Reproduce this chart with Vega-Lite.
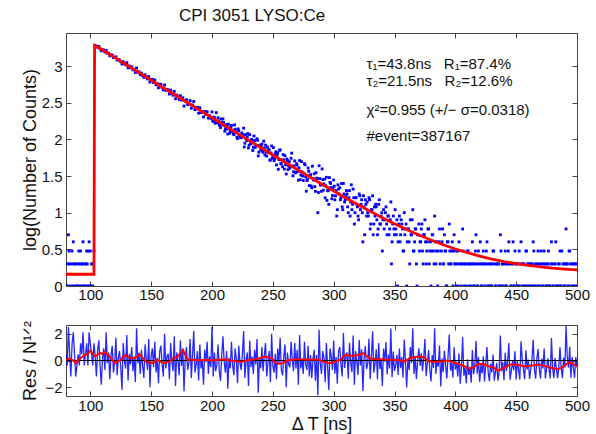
{
"$schema": "https://vega.github.io/schema/vega-lite/v6.json",
"background": "white",
"padding": {"left": 20, "top": 6, "right": 0, "bottom": 0},
"config": {
 "font": "Liberation Sans",
 "view": {"stroke": "#444", "strokeWidth": 1},
 "axis": {"domain": false, "grid": false, "ticks": true, "tickSize": -5, "tickColor": "#444", "labelFontSize": 15, "labelColor": "#111", "titleFontSize": 18, "titleFontWeight": "normal", "titleColor": "#111", "labelFont": "Liberation Sans", "titleFont": "Liberation Sans", "labelFlush": false}
},
"spacing": 17,
"datasets": {
"m": [
{"t":80,"v":0.301,"r":0.46},{"t":81,"v":0,"r":-0.37},{"t":82,"v":0.699,"r":2.5},{"t":83,"v":0.301,"r":0.46},{"t":84,"v":null,"r":-1.2},{"t":85,"v":0.477,"r":1.29},{"t":86,"v":0.602,"r":2.1},{"t":87,"v":0.301,"r":0.46},{"t":88,"v":null,"r":-1.2},{"t":89,"v":0,"r":-0.37},
{"t":90,"v":0.301,"r":0.46},{"t":91,"v":0,"r":-0.37},{"t":92,"v":0.477,"r":1.29},{"t":93,"v":0.301,"r":0.46},{"t":94,"v":0.602,"r":2.1},{"t":95,"v":0,"r":-0.37},{"t":96,"v":0.301,"r":0.46},{"t":97,"v":0.477,"r":1.29},{"t":98,"v":0,"r":-0.37},{"t":99,"v":0.602,"r":2.1},
{"t":100,"v":0.477,"r":1.29},{"t":101,"v":0.301,"r":0.46},{"t":102,"v":0,"r":-0.37},{"t":103,"v":0.477,"r":1.29},
{"t":104,"v":3.28,"r":0.3},{"t":105,"v":3.256,"r":-1.2},{"t":106,"v":3.269,"r":0.8},{"t":107,"v":3.267,"r":1.5},{"t":108,"v":3.234,"r":-0.4},{"t":109,"v":3.207,"r":-1.8},
{"t":110,"v":3.219,"r":0.1},{"t":111,"v":3.219,"r":0.9},{"t":112,"v":3.19,"r":-0.7},{"t":113,"v":3.212,"r":2.1},{"t":114,"v":3.175,"r":-0.2},{"t":115,"v":3.174,"r":0.6},{"t":116,"v":3.139,"r":-1.4},{"t":117,"v":3.151,"r":0.4},{"t":118,"v":3.149,"r":1.1},{"t":119,"v":3.115,"r":-0.9},
{"t":120,"v":3.114,"r":-0.1},{"t":121,"v":3.125,"r":1.7},{"t":122,"v":3.082,"r":-1.1},{"t":123,"v":3.086,"r":0.2},{"t":124,"v":3.082,"r":0.7},{"t":125,"v":3.058,"r":-0.5},{"t":126,"v":3.027,"r":-2.2},{"t":127,"v":3.059,"r":1.3},{"t":128,"v":3.033,"r":0},{"t":129,"v":3.016,"r":-0.6},
{"t":130,"v":3.046,"r":1.9},{"t":131,"v":2.975,"r":-1.5},{"t":132,"v":3.001,"r":0.5},{"t":133,"v":2.976,"r":-0.3},{"t":134,"v":2.989,"r":1.0},{"t":135,"v":2.947,"r":-0.8},{"t":136,"v":2.955,"r":0.3},{"t":137,"v":2.911,"r":-1.6},{"t":138,"v":2.973,"r":2.4},{"t":139,"v":2.916,"r":-0.2},
{"t":140,"v":2.92,"r":0.6},{"t":141,"v":2.881,"r":-1.0},{"t":142,"v":2.903,"r":0.8},{"t":143,"v":2.871,"r":-0.4},{"t":144,"v":2.845,"r":-1.3},{"t":145,"v":2.88,"r":1.2},{"t":146,"v":2.849,"r":0.1},{"t":147,"v":2.824,"r":-0.7},{"t":148,"v":2.856,"r":1.6},{"t":149,"v":2.781,"r":-2.0},
{"t":150,"v":2.816,"r":0.4},{"t":151,"v":2.818,"r":0.9},{"t":152,"v":2.774,"r":-0.5},{"t":153,"v":2.809,"r":1.4},{"t":154,"v":2.743,"r":-0.9},{"t":155,"v":2.76,"r":0.2},{"t":156,"v":2.703,"r":-1.7},{"t":157,"v":2.751,"r":0.7},{"t":158,"v":2.75,"r":1.1},{"t":159,"v":2.707,"r":-0.3},
{"t":160,"v":2.674,"r":-1.2},{"t":161,"v":2.741,"r":2.0},{"t":162,"v":2.669,"r":-0.6},{"t":163,"v":2.679,"r":0.3},{"t":164,"v":2.674,"r":0.5},{"t":165,"v":2.618,"r":-1.4},{"t":166,"v":2.672,"r":1.3},{"t":167,"v":2.629,"r":-0.1},{"t":168,"v":2.602,"r":-0.8},{"t":169,"v":2.654,"r":1.8},
{"t":170,"v":2.554,"r":-1.9},{"t":171,"v":2.604,"r":0.6},{"t":172,"v":2.58,"r":0},{"t":173,"v":2.543,"r":-1.1},{"t":174,"v":2.595,"r":1.5},{"t":175,"v":2.536,"r":-0.4},{"t":176,"v":2.567,"r":0.9},{"t":177,"v":2.454,"r":-2.3},{"t":178,"v":2.524,"r":0.2},{"t":179,"v":2.54,"r":1.0},
{"t":180,"v":2.475,"r":-0.7},{"t":181,"v":2.481,"r":-0.2},{"t":182,"v":2.528,"r":1.6},{"t":183,"v":2.424,"r":-1.3},{"t":184,"v":2.469,"r":0.4},{"t":185,"v":2.516,"r":2.2},{"t":186,"v":2.406,"r":-0.9},{"t":187,"v":2.415,"r":-0.3},{"t":188,"v":2.437,"r":0.7},{"t":189,"v":2.357,"r":-1.5},
{"t":190,"v":2.432,"r":1.2},{"t":191,"v":2.365,"r":-0.6},{"t":192,"v":2.377,"r":0.1},{"t":193,"v":2.305,"r":-1.8},{"t":194,"v":2.379,"r":0.8},{"t":195,"v":2.34,"r":-0.1},{"t":196,"v":2.377,"r":1.4},{"t":197,"v":2.29,"r":-1.0},{"t":198,"v":2.322,"r":0.3},{"t":199,"v":2.286,"r":-0.5},
{"t":200,"v":2.374,"r":2.5},{"t":201,"v":2.246,"r":-1.2},{"t":202,"v":2.293,"r":0.6},{"t":203,"v":2.238,"r":-0.8},{"t":204,"v":2.24,"r":-0.3},{"t":205,"v":2.293,"r":1.2},{"t":206,"v":2.199,"r":-0.8},{"t":207,"v":2.16,"r":-1.5},{"t":208,"v":2.229,"r":0.4},{"t":209,"v":2.278,"r":1.8},
{"t":210,"v":2.188,"r":-0.1},{"t":211,"v":2.144,"r":-0.9},{"t":212,"v":2.201,"r":0.7},{"t":213,"v":2.073,"r":-2.1},{"t":214,"v":2.159,"r":0.2},{"t":215,"v":2.116,"r":-0.6},{"t":216,"v":2.19,"r":1.4},{"t":217,"v":2.104,"r":-0.4},{"t":218,"v":2.064,"r":-1.1},{"t":219,"v":2.138,"r":0.9},
{"t":220,"v":2.094,"r":0.1},{"t":221,"v":2.009,"r":-1.7},{"t":222,"v":2.116,"r":1.1},{"t":223,"v":2.052,"r":-0.2},{"t":224,"v":2.021,"r":-0.7},{"t":225,"v":2.068,"r":0.5},{"t":226,"v":2.152,"r":2.2},{"t":227,"v":1.946,"r":-1.3},{"t":228,"v":2.009,"r":0},{"t":229,"v":2.033,"r":0.6},
{"t":230,"v":1.883,"r":-1.9},{"t":231,"v":2.063,"r":1.5},{"t":232,"v":1.941,"r":-0.5},{"t":233,"v":1.976,"r":0.3},{"t":234,"v":1.893,"r":-1.0},{"t":235,"v":1.984,"r":0.8},{"t":236,"v":1.911,"r":-0.3},{"t":237,"v":2.008,"r":1.6},{"t":238,"v":1.774,"r":-2.4},{"t":239,"v":1.909,"r":0.2},
{"t":240,"v":1.854,"r":-0.6},{"t":241,"v":1.934,"r":1.0},{"t":242,"v":1.823,"r":-0.8},{"t":243,"v":1.88,"r":0.4},{"t":244,"v":1.921,"r":1.3},{"t":245,"v":1.771,"r":-1.2},{"t":246,"v":1.821,"r":-0.1},{"t":247,"v":1.856,"r":0.7},{"t":248,"v":1.717,"r":-1.6},{"t":249,"v":1.909,"r":2.0},
{"t":250,"v":1.757,"r":-0.4},{"t":251,"v":1.709,"r":-0.9},{"t":252,"v":1.805,"r":0.5},{"t":253,"v":1.652,"r":-1.4},{"t":254,"v":1.815,"r":0.9},{"t":255,"v":1.722,"r":-0.2},{"t":256,"v":1.855,"r":1.7},{"t":257,"v":1.664,"r":-0.7},{"t":258,"v":1.624,"r":-1.1},{"t":259,"v":1.72,"r":0.3},
{"t":260,"v":1.777,"r":1.2},{"t":261,"v":1.527,"r":-2.0},{"t":262,"v":1.712,"r":0.6},{"t":263,"v":1.634,"r":-0.3},{"t":264,"v":1.609,"r":-0.5},{"t":265,"v":1.742,"r":1.4},{"t":266,"v":1.636,"r":0.1},{"t":267,"v":1.558,"r":-0.8},{"t":268,"v":1.706,"r":1.3},{"t":269,"v":1.553,"r":-0.6},
{"t":270,"v":1.648,"r":0.8},{"t":271,"v":1.443,"r":-1.8},{"t":272,"v":1.711,"r":1.9},{"t":273,"v":1.513,"r":-0.6},{"t":274,"v":1.556,"r":0.1},{"t":275,"v":1.438,"r":-1.0},{"t":276,"v":1.668,"r":1.4},{"t":277,"v":1.488,"r":-0.3},{"t":278,"v":1.438,"r":-0.7},{"t":279,"v":1.609,"r":1.1},
{"t":280,"v":1.369,"r":-1.2},{"t":281,"v":1.519,"r":0.4},{"t":282,"v":1.339,"r":-1.3},{"t":283,"v":1.469,"r":0.1},{"t":284,"v":1.53,"r":0.8},{"t":285,"v":1.29,"r":-1.5},{"t":286,"v":1.47,"r":0.4},{"t":287,"v":1.0,"r":-2.6},{"t":288,"v":1.64,"r":2.3},{"t":289,"v":1.381,"r":-0.2},
{"t":290,"v":1.291,"r":-1.0},{"t":291,"v":1.451,"r":0.7},{"t":292,"v":1.392,"r":0.2},{"t":293,"v":1.202,"r":-1.6},{"t":294,"v":1.482,"r":1.3},{"t":295,"v":1.303,"r":-0.4},{"t":296,"v":1.113,"r":-2.2},{"t":297,"v":1.414,"r":0.9},{"t":298,"v":1.344,"r":0.3},{"t":299,"v":1.234,"r":-0.7},
{"t":300,"v":1.445,"r":1.5},{"t":301,"v":1.176,"r":-0.98},{"t":302,"v":1.301,"r":0.25},{"t":303,"v":1.041,"r":-1.74},{"t":304,"v":1.322,"r":0.68},{"t":305,"v":1.342,"r":1.02},{"t":306,"v":1.204,"r":-0.31},{"t":307,"v":1.079,"r":-1.19},{"t":308,"v":1.398,"r":2.06},{"t":309,"v":1.146,"r":-0.55},
{"t":310,"v":1.23,"r":0.28},{"t":311,"v":1.255,"r":0.61},{"t":312,"v":1.0,"r":-1.36},{"t":313,"v":1.301,"r":1.32},{"t":314,"v":1.146,"r":-0.16},{"t":315,"v":1.041,"r":-0.87},{"t":316,"v":1.322,"r":1.87},{"t":317,"v":0.845,"r":-1.81},{"t":318,"v":1.204,"r":0.71},{"t":319,"v":1.114,"r":-0.03},
{"t":320,"v":0.954,"r":-1.08},{"t":321,"v":1.255,"r":1.52},{"t":322,"v":1.041,"r":-0.38},{"t":323,"v":1.176,"r":0.83},{"t":324,"v":0.602,"r":-2.28},{"t":325,"v":1.079,"r":0.12},{"t":326,"v":1.176,"r":1.07},{"t":327,"v":0.954,"r":-0.64},{"t":328,"v":1.0,"r":-0.27},{"t":329,"v":1.204,"r":1.62},
{"t":330,"v":0.778,"r":-1.38},{"t":331,"v":1.041,"r":0.23},{"t":332,"v":1.23,"r":2.19},{"t":333,"v":0.845,"r":-0.91},{"t":334,"v":0.954,"r":-0.21},{"t":335,"v":1.079,"r":0.83},{"t":336,"v":0.699,"r":-1.4},{"t":337,"v":1.114,"r":1.3},{"t":338,"v":0.845,"r":-0.64},{"t":339,"v":0.954,"r":0.09},
{"t":340,"v":0.477,"r":-1.9},{"t":341,"v":1.041,"r":0.9},{"t":342,"v":0.903,"r":-0.08},{"t":343,"v":1.079,"r":1.38},{"t":344,"v":0.699,"r":-1.04},{"t":345,"v":0.954,"r":0.44},{"t":346,"v":0.778,"r":-0.59},{"t":347,"v":1.146,"r":2.38},{"t":348,"v":0.602,"r":-1.24},{"t":349,"v":0.954,"r":0.67},
{"t":350,"v":0.699,"r":-0.78},{"t":351,"v":0.778,"r":-0.38},{"t":352,"v":0.903,"r":0.42},{"t":353,"v":0.602,"r":-1.08},{"t":354,"v":0.954,"r":0.89},{"t":355,"v":0.699,"r":-0.57},{"t":356,"v":0.845,"r":0.26},{"t":357,"v":0.477,"r":-1.29},{"t":358,"v":1.0,"r":1.57},{"t":359,"v":0.778,"r":0.0},
{"t":360,"v":0,"r":-2.02},{"t":361,"v":0.778,"r":0.08},{"t":362,"v":0.602,"r":-0.71},{"t":363,"v":0.903,"r":1.01},{"t":364,"v":0.699,"r":-0.21},{"t":365,"v":1.041,"r":2.4},{"t":366,"v":0.477,"r":-1.0},{"t":367,"v":0.778,"r":0.34},{"t":368,"v":0.301,"r":-1.38},{"t":369,"v":0.699,"r":-0.02},
{"t":370,"v":0.845,"r":0.91},{"t":371,"v":0.602,"r":-0.41},{"t":372,"v":0.778,"r":0.54},{"t":373,"v":0.477,"r":-0.8},{"t":374,"v":0.699,"r":0.16},{"t":375,"v":0.903,"r":1.6},{"t":376,"v":0.301,"r":-1.18},{"t":377,"v":0.602,"r":-0.21},{"t":378,"v":0.778,"r":0.78},{"t":379,"v":0.477,"r":-0.63},
{"t":380,"v":0,"r":-1.57},{"t":381,"v":0.699,"r":0.4},{"t":382,"v":0.477,"r":-0.55},{"t":383,"v":0.954,"r":2.41},{"t":384,"v":0.301,"r":-1.0},{"t":385,"v":0.602,"r":0.04},{"t":386,"v":0.477,"r":-0.45},{"t":387,"v":0.778,"r":1.12},{"t":388,"v":null,"r":-1.94},{"t":389,"v":0.602,"r":0.15},
{"t":390,"v":0.301,"r":-0.87},{"t":391,"v":0.699,"r":0.73},{"t":392,"v":0.477,"r":-0.3},{"t":393,"v":0,"r":-1.34},{"t":394,"v":0.602,"r":0.28},{"t":395,"v":0.845,"r":1.94},{"t":396,"v":0.301,"r":-0.75},{"t":397,"v":0.477,"r":-0.18},{"t":398,"v":0,"r":-1.27},{"t":399,"v":0.699,"r":0.98},
{"t":400,"v":0.301,"r":-0.67},{"t":401,"v":0.477,"r":-0.09},{"t":402,"v":0,"r":-1.2},{"t":403,"v":0.602,"r":0.53},{"t":404,"v":null,"r":-1.74},{"t":405,"v":0.301,"r":-0.58},{"t":406,"v":0.778,"r":1.75},{"t":407,"v":0,"r":-1.13},{"t":408,"v":0.301,"r":-0.53},{"t":409,"v":null,"r":-1.7},
{"t":410,"v":0.477,"r":0.09},{"t":411,"v":0,"r":-1.08},{"t":412,"v":0.301,"r":-0.47},{"t":413,"v":null,"r":-1.66},{"t":414,"v":0.602,"r":0.78},{"t":415,"v":0,"r":-1.03},{"t":416,"v":0.301,"r":-0.4},{"t":417,"v":0.699,"r":1.46},{"t":418,"v":0,"r":-0.99},{"t":419,"v":0.477,"r":0.26},
{"t":420,"v":null,"r":-1.6},{"t":421,"v":0.301,"r":-0.34},{"t":422,"v":0,"r":-0.96},{"t":423,"v":0.477,"r":0.32},{"t":424,"v":null,"r":-1.57},{"t":425,"v":0.301,"r":-0.28},{"t":426,"v":0.602,"r":1.01},{"t":427,"v":0,"r":-0.9},{"t":428,"v":null,"r":-1.54},{"t":429,"v":0.301,"r":-0.23},
{"t":430,"v":0,"r":-0.88},{"t":431,"v":0.477,"r":0.45},{"t":432,"v":null,"r":-1.51},{"t":433,"v":0,"r":-0.85},{"t":434,"v":0.301,"r":-0.17},{"t":435,"v":null,"r":-1.5},{"t":436,"v":0,"r":-0.83},{"t":437,"v":0.699,"r":1.87},{"t":438,"v":0,"r":-0.8},{"t":439,"v":0.301,"r":-0.12},
{"t":440,"v":null,"r":-1.47},{"t":441,"v":0.477,"r":0.58},{"t":442,"v":0,"r":-0.77},{"t":443,"v":0.301,"r":-0.08},{"t":444,"v":0.602,"r":1.31},{"t":445,"v":null,"r":-1.44},{"t":446,"v":0,"r":-0.75},{"t":447,"v":0.301,"r":-0.04},{"t":448,"v":0,"r":-0.73},{"t":449,"v":0.477,"r":0.68},
{"t":450,"v":null,"r":-1.42},{"t":451,"v":0.301,"r":0.0},{"t":452,"v":0,"r":-0.71},{"t":453,"v":null,"r":-1.41},{"t":454,"v":0.602,"r":1.43},{"t":455,"v":0.301,"r":0.02},{"t":456,"v":0,"r":-0.69},{"t":457,"v":null,"r":-1.39},{"t":458,"v":0.477,"r":0.76},{"t":459,"v":0,"r":-0.66},
{"t":460,"v":0.301,"r":0.07},{"t":461,"v":null,"r":-1.38},{"t":462,"v":0,"r":-0.65},{"t":463,"v":0.301,"r":0.09},{"t":464,"v":0.602,"r":1.55},{"t":465,"v":0,"r":-0.63},{"t":466,"v":null,"r":-1.36},{"t":467,"v":0.301,"r":0.12},{"t":468,"v":0.477,"r":0.85},{"t":469,"v":0,"r":-0.61},
{"t":470,"v":null,"r":-1.35},{"t":471,"v":0.301,"r":0.14},{"t":472,"v":0,"r":-0.6},{"t":473,"v":0.477,"r":0.9},{"t":474,"v":null,"r":-1.34},{"t":475,"v":0,"r":-0.59},{"t":476,"v":0.301,"r":0.17},{"t":477,"v":0,"r":-0.59},{"t":478,"v":null,"r":-1.33},{"t":479,"v":0.602,"r":1.68},
{"t":480,"v":0,"r":-0.57},{"t":481,"v":null,"r":-1.32},{"t":482,"v":0.301,"r":0.19},{"t":483,"v":0,"r":-0.56},{"t":484,"v":null,"r":-1.32},{"t":485,"v":0,"r":-0.55},{"t":486,"v":0.477,"r":0.98},{"t":487,"v":0,"r":-0.55},{"t":488,"v":null,"r":-1.31},{"t":489,"v":0.301,"r":0.22},
{"t":490,"v":0,"r":-0.54},{"t":491,"v":0.778,"r":2.6},{"t":492,"v":0.301,"r":0.24},{"t":493,"v":0,"r":-0.53},{"t":494,"v":0.477,"r":1.02},{"t":495,"v":null,"r":-1.29},{"t":496,"v":0.301,"r":0.26},{"t":497,"v":0,"r":-0.52},{"t":498,"v":null,"r":-1.29},{"t":499,"v":0.301,"r":0.26},
{"t":500,"v":0,"r":-0.51}
],
"ex": [
{"t":80.5,"v":0},{"t":81.5,"v":0.301},{"t":82.5,"v":0.477},{"t":83.5,"v":0},{"t":84.5,"v":0.301},{"t":85.5,"v":0},{"t":86.5,"v":0.301},{"t":87.5,"v":0},{"t":88.5,"v":0.301},{"t":89.5,"v":0},{"t":90.5,"v":0.477},{"t":91.5,"v":0.301},{"t":92.5,"v":0},{"t":93.5,"v":0.301},{"t":94.5,"v":0},{"t":95.5,"v":0.301},{"t":96.5,"v":0},{"t":97.5,"v":0.301},{"t":98.5,"v":0.477},{"t":99.5,"v":0},{"t":100.5,"v":0},{"t":101.5,"v":0.301},{"t":102.5,"v":0.301},
{"t":200.5,"v":2.255},{"t":201.5,"v":2.304},{"t":202.5,"v":2.219},{"t":203.5,"v":2.364},{"t":204.5,"v":2.227},{"t":205.5,"v":2.251},{"t":206.5,"v":2.186},{"t":207.5,"v":2.277},{"t":208.5,"v":2.203},{"t":209.5,"v":2.231},
{"t":210.5,"v":2.111},{"t":211.5,"v":2.181},{"t":212.5,"v":2.142},{"t":213.5,"v":2.206},{"t":214.5,"v":2.083},{"t":215.5,"v":2.165},{"t":216.5,"v":2.113},{"t":217.5,"v":2.078},{"t":218.5,"v":2.197},{"t":219.5,"v":2.112},
{"t":220.5,"v":2.03},{"t":221.5,"v":2.142},{"t":222.5,"v":2.057},{"t":223.5,"v":2.026},{"t":224.5,"v":2.087},{"t":225.5,"v":2.046},{"t":226.5,"v":1.895},{"t":227.5,"v":2.064},{"t":228.5,"v":1.982},{"t":229.5,"v":2.078},
{"t":230.5,"v":1.922},{"t":231.5,"v":1.974},{"t":232.5,"v":1.998},{"t":233.5,"v":1.848},{"t":234.5,"v":2.045},{"t":235.5,"v":1.889},{"t":236.5,"v":1.917},{"t":237.5,"v":1.986},{"t":238.5,"v":1.825},{"t":239.5,"v":1.921},
{"t":240.5,"v":1.9},{"t":241.5,"v":1.839},{"t":242.5,"v":1.975},{"t":243.5,"v":1.786},{"t":244.5,"v":1.826},{"t":245.5,"v":1.895},{"t":246.5,"v":1.861},{"t":247.5,"v":1.717},{"t":248.5,"v":1.813},{"t":249.5,"v":1.742},
{"t":250.5,"v":1.887},{"t":251.5,"v":1.734},{"t":252.5,"v":1.83},{"t":253.5,"v":1.782},{"t":254.5,"v":1.592},{"t":255.5,"v":1.852},{"t":256.5,"v":1.669},{"t":257.5,"v":1.72},{"t":258.5,"v":1.792},{"t":259.5,"v":1.594},
{"t":260.5,"v":1.652},{"t":261.5,"v":1.732},{"t":262.5,"v":1.587},{"t":263.5,"v":1.697},{"t":264.5,"v":1.627},{"t":265.5,"v":1.812},{"t":266.5,"v":1.503},{"t":267.5,"v":1.636},{"t":268.5,"v":1.543},{"t":269.5,"v":1.668},
{"t":270.5,"v":1.56},{"t":271.5,"v":1.611},{"t":272.5,"v":1.45},{"t":273.5,"v":1.696},{"t":274.5,"v":1.498},{"t":275.5,"v":1.533},{"t":276.5,"v":1.653},{"t":277.5,"v":1.293},{"t":278.5,"v":1.453},{"t":279.5,"v":1.564},
{"t":280.5,"v":1.504},{"t":281.5,"v":1.364},{"t":282.5,"v":1.634},{"t":283.5,"v":1.444},{"t":284.5,"v":1.355},{"t":285.5,"v":1.545},{"t":286.5,"v":1.465},{"t":287.5,"v":1.275},{"t":288.5,"v":1.465},{"t":289.5,"v":1.376},
{"t":290.5,"v":1.596},{"t":291.5,"v":1.306},{"t":292.5,"v":1.457},{"t":293.5,"v":1.367},{"t":294.5,"v":1.167},{"t":295.5,"v":1.298},{"t":296.5,"v":1.478},{"t":297.5,"v":1.399},{"t":298.5,"v":1.189},{"t":299.5,"v":1.33},
{"t":300.5,"v":1.362},{"t":301.5,"v":1.23},{"t":302.5,"v":0.954},{"t":303.5,"v":1.38},{"t":304.5,"v":1.255},{"t":305.5,"v":1.176},{"t":306.5,"v":1.398},{"t":307.5,"v":1.041},{"t":308.5,"v":1.255},{"t":309.5,"v":1.176},
{"t":310.5,"v":1.301},{"t":311.5,"v":1.079},{"t":312.5,"v":1.204},{"t":313.5,"v":0.954},{"t":314.5,"v":1.38},{"t":315.5,"v":1.114},{"t":316.5,"v":1.204},{"t":317.5,"v":1.0},{"t":318.5,"v":1.204},{"t":319.5,"v":1.079},
{"t":320.5,"v":0.903},{"t":321.5,"v":1.23},{"t":322.5,"v":1.114},{"t":323.5,"v":1.0},{"t":324.5,"v":1.23},{"t":325.5,"v":0.699},{"t":326.5,"v":1.114},{"t":327.5,"v":1.146},{"t":328.5,"v":0.954},{"t":329.5,"v":1.176},
{"t":330.5,"v":0.845},{"t":331.5,"v":1.041},{"t":332.5,"v":0.699},{"t":333.5,"v":1.079},{"t":334.5,"v":1.114},{"t":335.5,"v":0.903},{"t":336.5,"v":0.778},{"t":337.5,"v":1.176},{"t":338.5,"v":0.845},{"t":339.5,"v":1.0},
{"t":340.5,"v":0.903},{"t":341.5,"v":0.778},{"t":342.5,"v":1.0},{"t":343.5,"v":0.845},{"t":344.5,"v":0.954},{"t":345.5,"v":0.699},{"t":346.5,"v":0.903},{"t":347.5,"v":0.301},{"t":348.5,"v":0.845},{"t":349.5,"v":0.778},
{"t":350.5,"v":1.041},{"t":351.5,"v":0.699},{"t":352.5,"v":0},{"t":353.5,"v":0.845},{"t":354.5,"v":0.602},{"t":355.5,"v":0.903},{"t":356.5,"v":0.778},{"t":357.5,"v":0.477},{"t":358.5,"v":0.699},{"t":359.5,"v":0.845},
{"t":360.5,"v":0.602},{"t":361.5,"v":0.778},{"t":362.5,"v":0.301},{"t":363.5,"v":0.699},{"t":364.5,"v":0.903},{"t":365.5,"v":0.477},{"t":366.5,"v":0.602},{"t":367.5,"v":0.778},{"t":368.5,"v":0},{"t":369.5,"v":0.699},
{"t":370.5,"v":0.477},{"t":371.5,"v":0.602},{"t":372.5,"v":0.845},{"t":373.5,"v":0.301},{"t":374.5,"v":0.699},{"t":375.5,"v":0.602},{"t":376.5,"v":0.477},{"t":377.5,"v":0.778},{"t":378.5,"v":0.301},{"t":379.5,"v":0.602},
{"t":380.5,"v":0.477},{"t":381.5,"v":0.699},{"t":382.5,"v":0.301},{"t":383.5,"v":0.602},{"t":384.5,"v":0.477},{"t":385.5,"v":0},{"t":386.5,"v":0.602},{"t":387.5,"v":0.301},{"t":388.5,"v":0.477},{"t":389.5,"v":0.778},
{"t":390.5,"v":0.301},{"t":391.5,"v":0.477},{"t":392.5,"v":0},{"t":393.5,"v":0.602},{"t":394.5,"v":0.301},{"t":395.5,"v":0.477},{"t":396.5,"v":0.301},{"t":397.5,"v":0.602},{"t":398.5,"v":0.477},{"t":399.5,"v":0.301},
{"t":400.5,"v":0},{"t":401.5,"v":0.301},{"t":402.5,"v":0.477},{"t":403.5,"v":0.301},{"t":404.5,"v":0},{"t":405.5,"v":0.301},{"t":406.5,"v":0.477},{"t":407.5,"v":0.301},{"t":408.5,"v":0},{"t":409.5,"v":0.301},
{"t":410.5,"v":0.477},{"t":411.5,"v":0.301},{"t":412.5,"v":0},{"t":413.5,"v":0.301},{"t":414.5,"v":0.301},{"t":415.5,"v":0},{"t":416.5,"v":0.477},{"t":417.5,"v":0.301},{"t":418.5,"v":0},{"t":419.5,"v":0.301},
{"t":420.5,"v":0.602},{"t":421.5,"v":0},{"t":422.5,"v":0.301},{"t":423.5,"v":0.301},{"t":424.5,"v":0},{"t":425.5,"v":0.477},{"t":426.5,"v":0.301},{"t":427.5,"v":0},{"t":428.5,"v":0.301},{"t":429.5,"v":0},
{"t":430.5,"v":0.301},{"t":431.5,"v":0.477},{"t":432.5,"v":0.301},{"t":433.5,"v":0},{"t":434.5,"v":0.301},{"t":435.5,"v":0.301},{"t":436.5,"v":0},{"t":437.5,"v":0.477},{"t":438.5,"v":0.301},{"t":439.5,"v":0},
{"t":440.5,"v":0.301},{"t":441.5,"v":0},{"t":442.5,"v":0.301},{"t":443.5,"v":0.477},{"t":444.5,"v":0.301},{"t":445.5,"v":0},{"t":446.5,"v":0.301},{"t":447.5,"v":0.602},{"t":448.5,"v":0},{"t":449.5,"v":0.301},
{"t":450.5,"v":0.301},{"t":451.5,"v":0},{"t":452.5,"v":0.477},{"t":453.5,"v":0.301},{"t":454.5,"v":0},{"t":455.5,"v":0.301},{"t":456.5,"v":0.301},{"t":457.5,"v":0},{"t":458.5,"v":0.477},{"t":459.5,"v":0.301},
{"t":460.5,"v":0},{"t":461.5,"v":0.301},{"t":462.5,"v":0.301},{"t":463.5,"v":0},{"t":464.5,"v":0.477},{"t":465.5,"v":0.301},{"t":466.5,"v":0},{"t":467.5,"v":0.301},{"t":468.5,"v":0},{"t":469.5,"v":0.301},
{"t":470.5,"v":0.477},{"t":471.5,"v":0},{"t":472.5,"v":0.301},{"t":473.5,"v":0.301},{"t":474.5,"v":0},{"t":475.5,"v":0.301},{"t":476.5,"v":0.477},{"t":477.5,"v":0},{"t":478.5,"v":0.301},{"t":479.5,"v":0.301},
{"t":480.5,"v":0},{"t":481.5,"v":0.301},{"t":482.5,"v":0.602},{"t":483.5,"v":0},{"t":484.5,"v":0.301},{"t":485.5,"v":0.301},{"t":486.5,"v":0},{"t":487.5,"v":0.477},{"t":488.5,"v":0.301},{"t":489.5,"v":0},
{"t":490.5,"v":0.301},{"t":491.5,"v":0.301},{"t":492.5,"v":0},{"t":493.5,"v":0.477},{"t":494.5,"v":0.301},{"t":495.5,"v":0},{"t":496.5,"v":0.301},{"t":497.5,"v":0.301},{"t":498.5,"v":0},{"t":499.5,"v":0.301}
],
"fit": [
{"t":80,"v":0.16},{"t":103,"v":0.16},{"t":103.5,"v":3.28},{"t":104,"v":3.275},{"t":110,"v":3.219},{"t":120,"v":3.116},{"t":130,"v":3.013},{"t":140,"v":2.91},{"t":150,"v":2.807},{"t":160,"v":2.704},{"t":170,"v":2.602},{"t":180,"v":2.499},{"t":190,"v":2.397},{"t":200,"v":2.294},{"t":210,"v":2.192},{"t":220,"v":2.09},{"t":230,"v":1.989},{"t":240,"v":1.888},{"t":250,"v":1.787},{"t":260,"v":1.687},{"t":270,"v":1.588},{"t":280,"v":1.489},{"t":290,"v":1.391},{"t":300,"v":1.295},{"t":310,"v":1.201},{"t":320,"v":1.109},{"t":330,"v":1.019},{"t":340,"v":0.932},{"t":350,"v":0.849},{"t":360,"v":0.771},{"t":370,"v":0.696},{"t":380,"v":0.627},{"t":390,"v":0.563},{"t":400,"v":0.505},{"t":410,"v":0.454},{"t":420,"v":0.408},{"t":430,"v":0.368},{"t":440,"v":0.334},{"t":450,"v":0.305},{"t":460,"v":0.281},{"t":470,"v":0.261},{"t":480,"v":0.244},{"t":490,"v":0.231},{"t":500,"v":0.22}
],
"sm": [
{"t":80,"r":0.05},{"t":83,"r":0.15},{"t":86,"r":0.0},{"t":88,"r":-0.2},{"t":91,"r":0.1},{"t":95,"r":0.4},{"t":98,"r":0.5},{"t":100,"r":0.75},{"t":102,"r":0.5},{"t":104,"r":0.3},{"t":106,"r":0.45},{"t":108,"r":0.55},{"t":110,"r":0.5},{"t":112,"r":0.65},{"t":114,"r":0.45},{"t":116,"r":0.3},{"t":118,"r":0.05},{"t":120,"r":-0.2},{"t":122,"r":-0.1},{"t":125,"r":0.05},{"t":127,"r":0.3},{"t":129,"r":0.4},{"t":131,"r":0.25},{"t":133,"r":0.2},{"t":136,"r":0.15},{"t":139,"r":0.35},{"t":141,"r":0.45},{"t":143,"r":0.2},{"t":146,"r":-0.1},{"t":148,"r":-0.15},{"t":151,"r":-0.2},{"t":153,"r":-0.05},{"t":155,"r":0.05},{"t":158,"r":-0.1},{"t":160,"r":-0.2},{"t":162,"r":-0.15},{"t":165,"r":-0.1},{"t":167,"r":0.1},{"t":169,"r":0.2},{"t":172,"r":0.3},{"t":174,"r":0.55},{"t":176,"r":0.8},{"t":178,"r":0.4},{"t":180,"r":0.05},{"t":185,"r":0.05},{"t":190,"r":0.0},{"t":195,"r":0.05},{"t":200,"r":0.0},{"t":205,"r":0.05},{"t":210,"r":0.1},{"t":215,"r":0.0},{"t":220,"r":-0.05},{"t":224,"r":-0.1},{"t":228,"r":0.0},{"t":232,"r":0.05},{"t":236,"r":0.1},{"t":240,"r":0.2},{"t":243,"r":0.3},{"t":246,"r":0.25},{"t":249,"r":0.2},{"t":252,"r":-0.2},{"t":255,"r":-0.25},{"t":258,"r":-0.2},{"t":262,"r":0.0},{"t":265,"r":0.05},{"t":270,"r":0.1},{"t":275,"r":0.1},{"t":280,"r":0.05},{"t":284,"r":0.1},{"t":288,"r":0.05},{"t":292,"r":-0.1},{"t":296,"r":-0.2},{"t":300,"r":-0.15},{"t":303,"r":0.0},{"t":306,"r":0.05},{"t":308,"r":0.3},{"t":310,"r":0.45},{"t":313,"r":0.35},{"t":316,"r":0.35},{"t":319,"r":0.4},{"t":322,"r":0.45},{"t":324,"r":0.55},{"t":327,"r":0.35},{"t":330,"r":0.15},{"t":335,"r":0.1},{"t":340,"r":0.1},{"t":345,"r":0.05},{"t":350,"r":0.05},{"t":355,"r":0.0},{"t":358,"r":-0.1},{"t":362,"r":0.15},{"t":366,"r":0.25},{"t":370,"r":0.3},{"t":374,"r":0.25},{"t":377,"r":0.0},{"t":380,"r":-0.1},{"t":385,"r":-0.1},{"t":390,"r":-0.05},{"t":394,"r":0.0},{"t":397,"r":-0.1},{"t":401,"r":-0.2},{"t":404,"r":-0.3},{"t":408,"r":-0.45},{"t":411,"r":-0.6},{"t":414,"r":-0.55},{"t":417,"r":-0.35},{"t":420,"r":-0.25},{"t":424,"r":-0.3},{"t":428,"r":-0.45},{"t":432,"r":-0.55},{"t":435,"r":-0.75},{"t":438,"r":-0.65},{"t":441,"r":-0.5},{"t":445,"r":-0.3},{"t":449,"r":-0.3},{"t":453,"r":-0.35},{"t":457,"r":-0.45},{"t":461,"r":-0.4},{"t":465,"r":-0.35},{"t":469,"r":-0.3},{"t":473,"r":-0.4},{"t":477,"r":-0.5},{"t":481,"r":-0.6},{"t":484,"r":-0.65},{"t":487,"r":-0.55},{"t":490,"r":-0.35},{"t":493,"r":-0.15},{"t":496,"r":-0.2},{"t":500,"r":-0.45}
]
},
"vconcat": [
{
 "width": 511, "height": 253,
 "title": {"text": "CPI 3051 LYSO:Ce", "anchor": "start", "frame": "group", "dx": 113, "fontSize": 17, "fontWeight": "normal", "offset": 8, "color": "#111", "font": "Liberation Sans"},
 "layer": [
  {"data": {"name": "m"},
   "mark": {"type": "point", "shape": "square", "filled": true, "size": 8, "color": "#0000ff", "opacity": 1, "clip": true},
   "encoding": {
    "x": {"field": "t", "type": "quantitative", "scale": {"domain": [80, 500], "nice": false, "zero": false}, "axis": {"values": [100,150,200,250,300,350,400,450,500], "title": null, "labelPadding": 6}},
    "y": {"field": "v", "type": "quantitative", "scale": {"domain": [0, 3.45], "nice": false, "zero": false}, "axis": {"values": [0,0.5,1,1.5,2,2.5,3], "format": "~g", "title": "log(Number of Counts)", "labelPadding": 9, "titlePadding": 0, "minExtent": 27, "maxExtent": 27}}
   }},
  {"data": {"name": "ex"},
   "mark": {"type": "point", "shape": "square", "filled": true, "size": 8, "color": "#0000ff", "opacity": 1, "clip": true},
   "encoding": {
    "x": {"field": "t", "type": "quantitative", "axis": null},
    "y": {"field": "v", "type": "quantitative", "axis": null}
   }},
  {"data": {"name": "fit"},
   "mark": {"type": "line", "color": "#ff0000", "strokeWidth": 2.8, "clip": true},
   "encoding": {
    "x": {"field": "t", "type": "quantitative", "axis": {"orient": "top", "labels": false, "title": null, "values": [100,150,200,250,300,350,400,450,500]}},
    "y": {"field": "v", "type": "quantitative", "axis": {"orient": "right", "labels": false, "title": null, "values": [0,0.5,1,1.5,2,2.5,3]}}
   }},
  {"data": {"values": [{}]}, "mark": {"type": "text", "align": "left", "baseline": "middle", "fontSize": 15, "color": "#111", "font": "Liberation Sans"},
   "encoding": {"x": {"datum": 327, "axis": null}, "y": {"datum": 3.03, "axis": null}, "text": {"value": "τ₁=43.8ns\u00a0\u00a0\u00a0R₁=87.4%"}}},
  {"data": {"values": [{}]}, "mark": {"type": "text", "align": "left", "baseline": "middle", "fontSize": 15, "color": "#111", "font": "Liberation Sans"},
   "encoding": {"x": {"datum": 327, "axis": null}, "y": {"datum": 2.79, "axis": null}, "text": {"value": "τ₂=21.5ns\u00a0\u00a0\u00a0R₂=12.6%"}}},
  {"data": {"values": [{}]}, "mark": {"type": "text", "align": "left", "baseline": "middle", "fontSize": 15, "color": "#111", "font": "Liberation Sans"},
   "encoding": {"x": {"datum": 327, "axis": null}, "y": {"datum": 2.4, "axis": null}, "text": {"value": "χ²=0.955 (+/− σ=0.0318)"}}},
  {"data": {"values": [{}]}, "mark": {"type": "text", "align": "left", "baseline": "middle", "fontSize": 15, "color": "#111", "font": "Liberation Sans"},
   "encoding": {"x": {"datum": 327, "axis": null}, "y": {"datum": 2.04, "axis": null}, "text": {"value": "#event=387167"}}}
 ],
 "resolve": {"axis": {"x": "independent", "y": "independent"}}
},
{
 "width": 511, "height": 71,
 "layer": [
  {"data": {"name": "m"},
   "mark": {"type": "line", "color": "#0000ff", "strokeWidth": 1.3, "opacity": 0.85, "clip": true},
   "encoding": {
    "x": {"field": "t", "type": "quantitative", "scale": {"domain": [80, 500], "nice": false, "zero": false}, "axis": {"values": [100,150,200,250,300,350,400,450,500], "title": "Δ T [ns]", "labelPadding": 7, "titlePadding": 2}},
    "y": {"field": "r", "type": "quantitative", "scale": {"domain": [-2.65, 2.65], "nice": false, "zero": false}, "axis": {"values": [-2,0,2], "title": "Res / N¹ᐟ²", "labelPadding": 9, "titlePadding": 0, "minExtent": 27, "maxExtent": 27}}
   }},
  {"data": {"values": [{}]}, "mark": {"type": "rule", "color": "#000000", "strokeWidth": 1},
   "encoding": {"y": {"datum": 0, "axis": null}}},
  {"data": {"name": "sm"},
   "mark": {"type": "line", "color": "#ff0000", "strokeWidth": 2, "clip": true},
   "encoding": {
    "x": {"field": "t", "type": "quantitative", "axis": {"orient": "top", "labels": false, "title": null, "values": [100,150,200,250,300,350,400,450,500]}},
    "y": {"field": "r", "type": "quantitative", "axis": {"orient": "right", "labels": false, "title": null, "values": [-2,0,2]}}
   }}
 ],
 "resolve": {"axis": {"x": "independent", "y": "independent"}}
}
]
}
